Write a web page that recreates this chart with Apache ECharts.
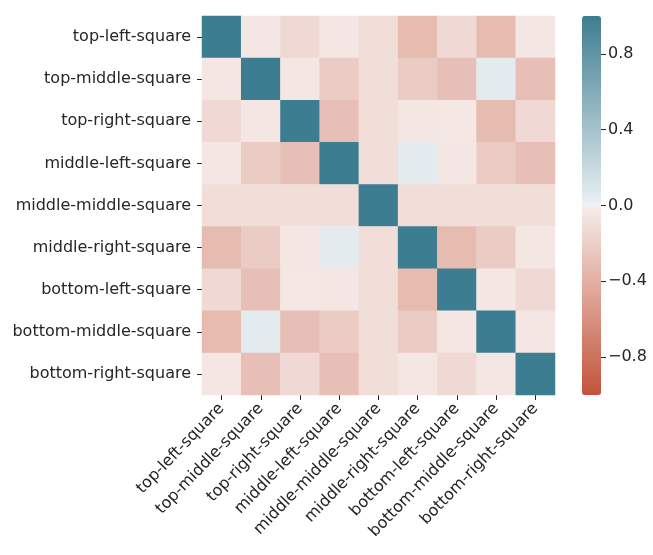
<!DOCTYPE html>
<html>
<head>
<meta charset="utf-8">
<script src="https://cdn.jsdelivr.net/npm/echarts@6/dist/echarts.min.js"></script>
<style>
  html, body { margin: 0; padding: 0; background: #ffffff; }
  #chart { width: 653px; height: 555px; }
</style>
</head>
<body>
<div id="chart"></div>
<script>
// Board squares of the tic-tac-toe dataset
var squares = [
  'top-left-square', 'top-middle-square', 'top-right-square',
  'middle-left-square', 'middle-middle-square', 'middle-right-square',
  'bottom-left-square', 'bottom-middle-square', 'bottom-right-square'
];

// Correlation matrix, one row per square
var rowTopLeft      = [1.00, -0.05, -0.13, -0.05, -0.10, -0.33, -0.13, -0.33, -0.05];
var rowTopMiddle    = [-0.05, 1.00, -0.05, -0.22, -0.10, -0.22, -0.30, 0.05, -0.30];
var rowTopRight     = [-0.13, -0.05, 1.00, -0.30, -0.10, -0.05, -0.04, -0.33, -0.13];
var rowMiddleLeft   = [-0.05, -0.22, -0.30, 1.00, -0.10, 0.05, -0.05, -0.22, -0.30];
var rowMiddleMiddle = [-0.10, -0.10, -0.10, -0.10, 1.00, -0.10, -0.10, -0.10, -0.10];
var rowMiddleRight  = [-0.33, -0.22, -0.05, 0.05, -0.10, 1.00, -0.33, -0.22, -0.05];
var rowBottomLeft   = [-0.13, -0.30, -0.04, -0.05, -0.10, -0.33, 1.00, -0.05, -0.13];
var rowBottomMiddle = [-0.33, 0.05, -0.30, -0.22, -0.10, -0.22, -0.05, 1.00, -0.05];
var rowBottomRight  = [-0.05, -0.30, -0.13, -0.30, -0.10, -0.05, -0.13, -0.05, 1.00];

// Colour bar tick labels
var colorbarTicks = [-0.8, -0.4, 0.0, 0.4, 0.8];

var rows = [rowTopLeft, rowTopMiddle, rowTopRight, rowMiddleLeft, rowMiddleMiddle,
            rowMiddleRight, rowBottomLeft, rowBottomMiddle, rowBottomRight];

var cells = [];
rows.forEach(function (row, r) {
  row.forEach(function (v, c) { cells.push([c, r, v]); });
});

// Diverging red-to-teal colour map with a light centre, sampled into
// evenly spaced stops for the continuous visual map.
var anchors = [
  [-1.0,  [195, 83, 58]],
  [-0.01, [246, 236, 233]],
  [0.0,   [242, 242, 242]],
  [0.01,  [234, 240, 243]],
  [1.0,   [61, 125, 145]]
];
function colourAt(v) {
  for (var i = 1; i < anchors.length; i++) {
    if (v <= anchors[i][0]) {
      var a = anchors[i - 1], b = anchors[i];
      var t = (v - a[0]) / (b[0] - a[0]);
      var c = a[1].map(function (x, k) { return Math.round(x + (b[1][k] - x) * t); });
      return 'rgb(' + c.join(',') + ')';
    }
  }
  return 'rgb(' + anchors[anchors.length - 1][1].join(',') + ')';
}
var rampStops = [];
for (var i = 0; i <= 200; i++) rampStops.push(colourAt(-1 + i / 100));

var FONT = 'DejaVu Sans';
var TEXT = '#262626';

var chart = echarts.init(document.getElementById('chart'), null, { renderer: 'canvas' });

chart.setOption({
  animation: false,
  backgroundColor: '#ffffff',
  grid: [
    { left: 202, top: 16, width: 353, height: 379, containLabel: false },
    { left: 582, top: 16, width: 19, height: 379, containLabel: false }
  ],
  xAxis: [
    {
      type: 'category', gridIndex: 0, data: squares, position: 'bottom',
      axisLine: { show: false },
      axisTick: { show: true, alignWithLabel: true, length: 5, interval: 0,
                  lineStyle: { color: TEXT, width: 1 } },
      axisLabel: { interval: 0, rotate: 46, margin: 11, fontFamily: FONT,
                   fontSize: 16, color: TEXT },
      splitLine: { show: false }
    },
    { type: 'category', gridIndex: 1, data: [''], show: false }
  ],
  yAxis: [
    {
      type: 'category', gridIndex: 0, data: squares, inverse: true,
      axisLine: { show: false },
      axisTick: { show: true, alignWithLabel: true, length: 5, interval: 0,
                  lineStyle: { color: TEXT, width: 1 } },
      axisLabel: { interval: 0, margin: 11, fontFamily: FONT, fontSize: 16, color: TEXT },
      splitLine: { show: false }
    },
    {
      type: 'value', gridIndex: 1, position: 'right', min: -1, max: 1,
      axisLine: { show: false },
      splitLine: { show: false },
      axisTick: { show: true, length: 5, customValues: colorbarTicks,
                  lineStyle: { color: TEXT, width: 1 } },
      axisLabel: {
        show: true, margin: 7, customValues: colorbarTicks,
        fontFamily: FONT, fontSize: 16, color: TEXT,
        formatter: function (v) {
          var s = Math.abs(v).toFixed(1);
          return v < -1e-9 ? '\u2212' + s : s;
        }
      }
    }
  ],
  visualMap: {
    type: 'continuous',
    seriesIndex: 0,
    min: -1, max: 1,
    calculable: false,
    realtime: false,
    orient: 'vertical',
    left: 577, top: 11,
    padding: 5,
    itemWidth: 19, itemHeight: 379,
    text: null,
    showLabel: false,
    inRange: { color: rampStops }
  },
  series: [
    {
      type: 'heatmap',
      xAxisIndex: 0, yAxisIndex: 0,
      data: cells,
      itemStyle: { borderWidth: 0 },
      emphasis: { disabled: true },
      label: { show: false }
    }
  ]
});
</script>
</body>
</html>
